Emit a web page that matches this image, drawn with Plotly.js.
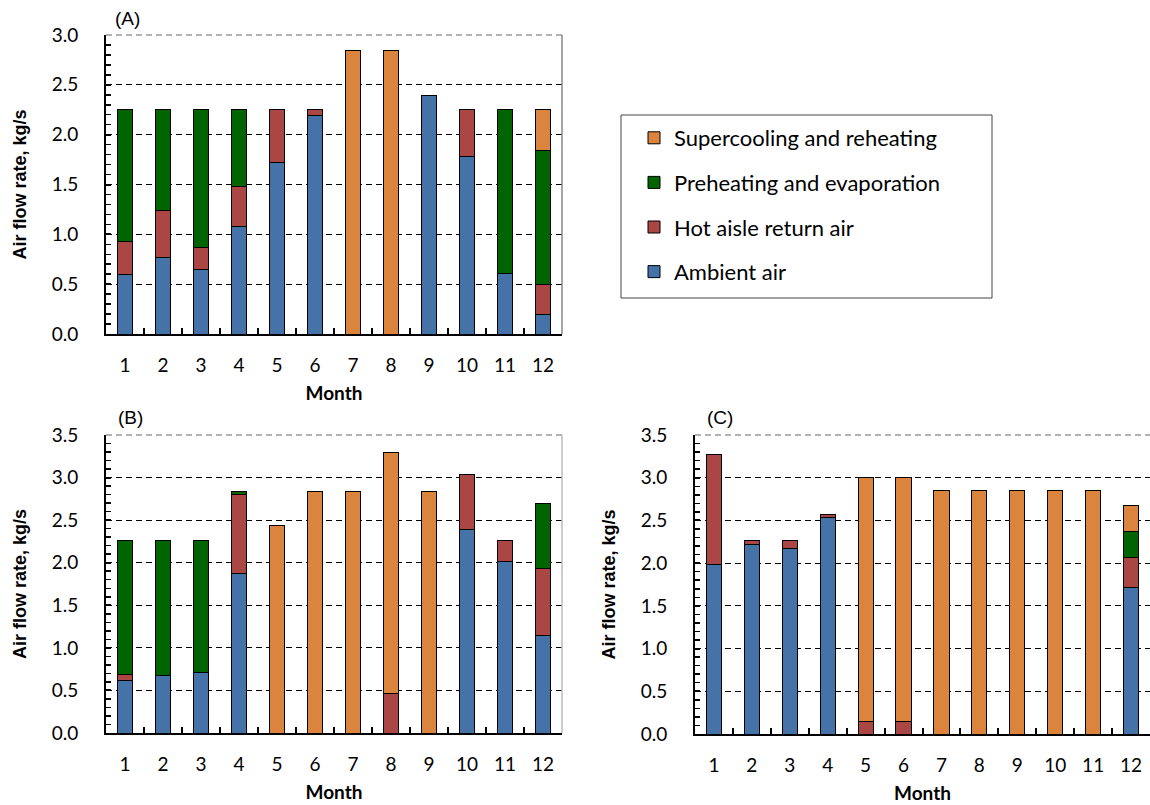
<!DOCTYPE html>
<html><head><meta charset="utf-8">
<script src="https://cdn.plot.ly/plotly-3.0.1.min.js"></script>
<style>body{margin:0;background:#fff}#chart{width:1150px;height:805px}</style>
</head><body><div id="chart"></div>
<script>
const months = ['1','2','3','4','5','6','7','8','9','10','11','12'];
const seriesNames = ['Ambient air','Hot aisle return air','Preheating and evaporation','Supercooling and reheating'];
const seriesColors = ['#4572A7','#AA4643','#006400','#DB843D'];

// Panel (A) segment heights, kg/s
const ambientA   = [0.60,0.77,0.65,1.08,1.72,2.19,null,null,2.39,1.78,0.61,0.20];
const hotAisleA  = [0.33,0.47,0.22,0.40,0.53,0.06,null,null,null,0.47,null,0.30];
const preheatA   = [1.32,1.01,1.38,0.77,null,null,null,null,null,null,1.64,1.34];
const superA     = [null,null,null,null,null,null,2.84,2.84,null,null,null,0.41];

// Panel (B)
const ambientB   = [0.62,0.68,0.71,1.87,null,null,null,null,null,2.39,2.01,1.14];
const hotAisleB  = [0.07,null,null,0.93,null,null,null,0.46,null,0.65,0.25,0.79];
const preheatB   = [1.57,1.58,1.55,0.04,null,null,null,null,null,null,null,0.77];
const superB     = [null,null,null,null,2.44,2.84,2.84,2.84,2.84,null,null,null];

// Panel (C)
const ambientC   = [1.98,2.22,2.17,2.53,null,null,null,null,null,null,null,1.72];
const hotAisleC  = [1.29,0.04,0.09,0.04,0.15,0.15,null,null,null,null,null,0.35];
const preheatC   = [null,null,null,null,null,null,null,null,null,null,null,0.30];
const superC     = [null,null,null,null,2.85,2.85,2.85,2.85,2.85,2.85,2.85,0.31];

const panels = [
  {xa:'x', ya:'y', data:[ambientA,hotAisleA,preheatA,superA], show:true},
  {xa:'x2',ya:'y2',data:[ambientB,hotAisleB,preheatB,superB], show:false},
  {xa:'x3',ya:'y3',data:[ambientC,hotAisleC,preheatC,superC], show:false}
];

const traces = [];
panels.forEach(p => {
  p.data.forEach((vals, i) => {
    traces.push({
      type:'bar', x:months, y:vals, xaxis:p.xa, yaxis:p.ya,
      name:seriesNames[i], legendgroup:'g'+i, legendrank:10 - i, showlegend:p.show,
      marker:{color:seriesColors[i], line:{color:'#000', width:1}},
      hoverinfo:'x+y+name'
    });
  });
});

const W = 1150, H = 805;
const fx = v => v / W, fy = v => 1 - v / H;

const tickFont = {family:'Lato, "Open Sans", sans-serif', size:19, color:'#000'};
function xAxis(l, r, anchor) {
  return {
    domain:[fx(l), fx(r)], anchor:anchor, type:'category',
    showline:true, linecolor:'#000', linewidth:2,
    ticks:'inside', tickson:'boundaries', ticklen:6, tickwidth:2, tickcolor:'#000',
    ticklabelstandoff:13,
    showgrid:false, zeroline:false, tickfont:tickFont,
    title:{text:'<b>Month</b>', font:{family:'Lato, sans-serif', size:19, color:'#000'}, standoff:12},
    fixedrange:true
  };
}
function yAxis(t, b, anchor, maxv) {
  return {
    domain:[fy(b), fy(t)], anchor:anchor, range:[0,maxv],
    showline:true, linecolor:'#000', linewidth:2,
    ticks:'inside', ticklen:5, tickwidth:2, tickcolor:'#000', dtick:0.5, tick0:0,
    tickformat:'.1f', ticklabelstandoff:22,
    minor:{dtick:0.1, ticks:'inside', ticklen:5, tickwidth:1.5, tickcolor:'#000', showgrid:false},
    showgrid:true, gridcolor:'#000', gridwidth:1, griddash:'6px,4px',
    zeroline:false, tickfont:tickFont,
    title:{text:'Air flow rate, kg/s', font:{family:'"Liberation Sans", Arial, sans-serif', size:18, color:'#000', weight:'bold'}, standoff:20},
    fixedrange:true
  };
}

const shapes = [];
function frame(xr, yr, rightColor) {
  shapes.push({type:'line', xref:xr+' domain', yref:yr+' domain', x0:0, x1:1, y0:1, y1:1,
               line:{color:'#999', width:1.5, dash:'6px,4px'}, layer:'above'});
  if (rightColor) shapes.push({type:'line', xref:xr+' domain', yref:yr+' domain', x0:1, x1:1, y0:0, y1:1,
               line:{color:rightColor, width:1.5}, layer:'above'});
}
frame('x','y','#888');
frame('x2','y2','#bbb');
frame('x3','y3',null);
// legend box
shapes.push({type:'rect', xref:'paper', yref:'paper', x0:fx(621), x1:fx(992), y0:fy(298), y1:fy(115),
             line:{color:'#444', width:1}, fillcolor:'rgba(0,0,0,0)'});

const labelFont = {family:'"Liberation Sans", Arial, sans-serif', size:19, color:'#000'};
const annotations = [
  {text:'(A)', x:fx(113), y:fy(18), xref:'paper', yref:'paper', xanchor:'left', yanchor:'middle', showarrow:false, font:labelFont},
  {text:'(B)', x:fx(116), y:fy(417), xref:'paper', yref:'paper', xanchor:'left', yanchor:'middle', showarrow:false, font:labelFont},
  {text:'(C)', x:fx(705), y:fy(417), xref:'paper', yref:'paper', xanchor:'left', yanchor:'middle', showarrow:false, font:labelFont}
];

const layout = {
  width:W, height:H, margin:{l:0,r:0,t:0,b:0},
  paper_bgcolor:'#fff', plot_bgcolor:'rgba(0,0,0,0)',
  barmode:'stack', bargap:0.6,
  font:{family:'Lato, sans-serif', color:'#000'},
  xaxis: xAxis(106, 562, 'y'),
  yaxis: yAxis(35, 334, 'x', 3.0),
  xaxis2: xAxis(106, 562, 'y2'),
  yaxis2: yAxis(435, 733, 'x2', 3.5),
  xaxis3: xAxis(695, 1150, 'y3'),
  yaxis3: yAxis(435, 734, 'x3', 3.5),
  showlegend:true,
  legend:{x:fx(634), y:fy(117), xanchor:'left', yanchor:'top',
          traceorder:'grouped', tracegroupgap:13,
          font:{family:'Lato, sans-serif', size:22, color:'#000'},
          bgcolor:'rgba(0,0,0,0)', borderwidth:0},
  shapes:shapes, annotations:annotations
};

Plotly.newPlot('chart', traces, layout, {displayModeBar:false, staticPlot:true});
</script>
</body></html>
